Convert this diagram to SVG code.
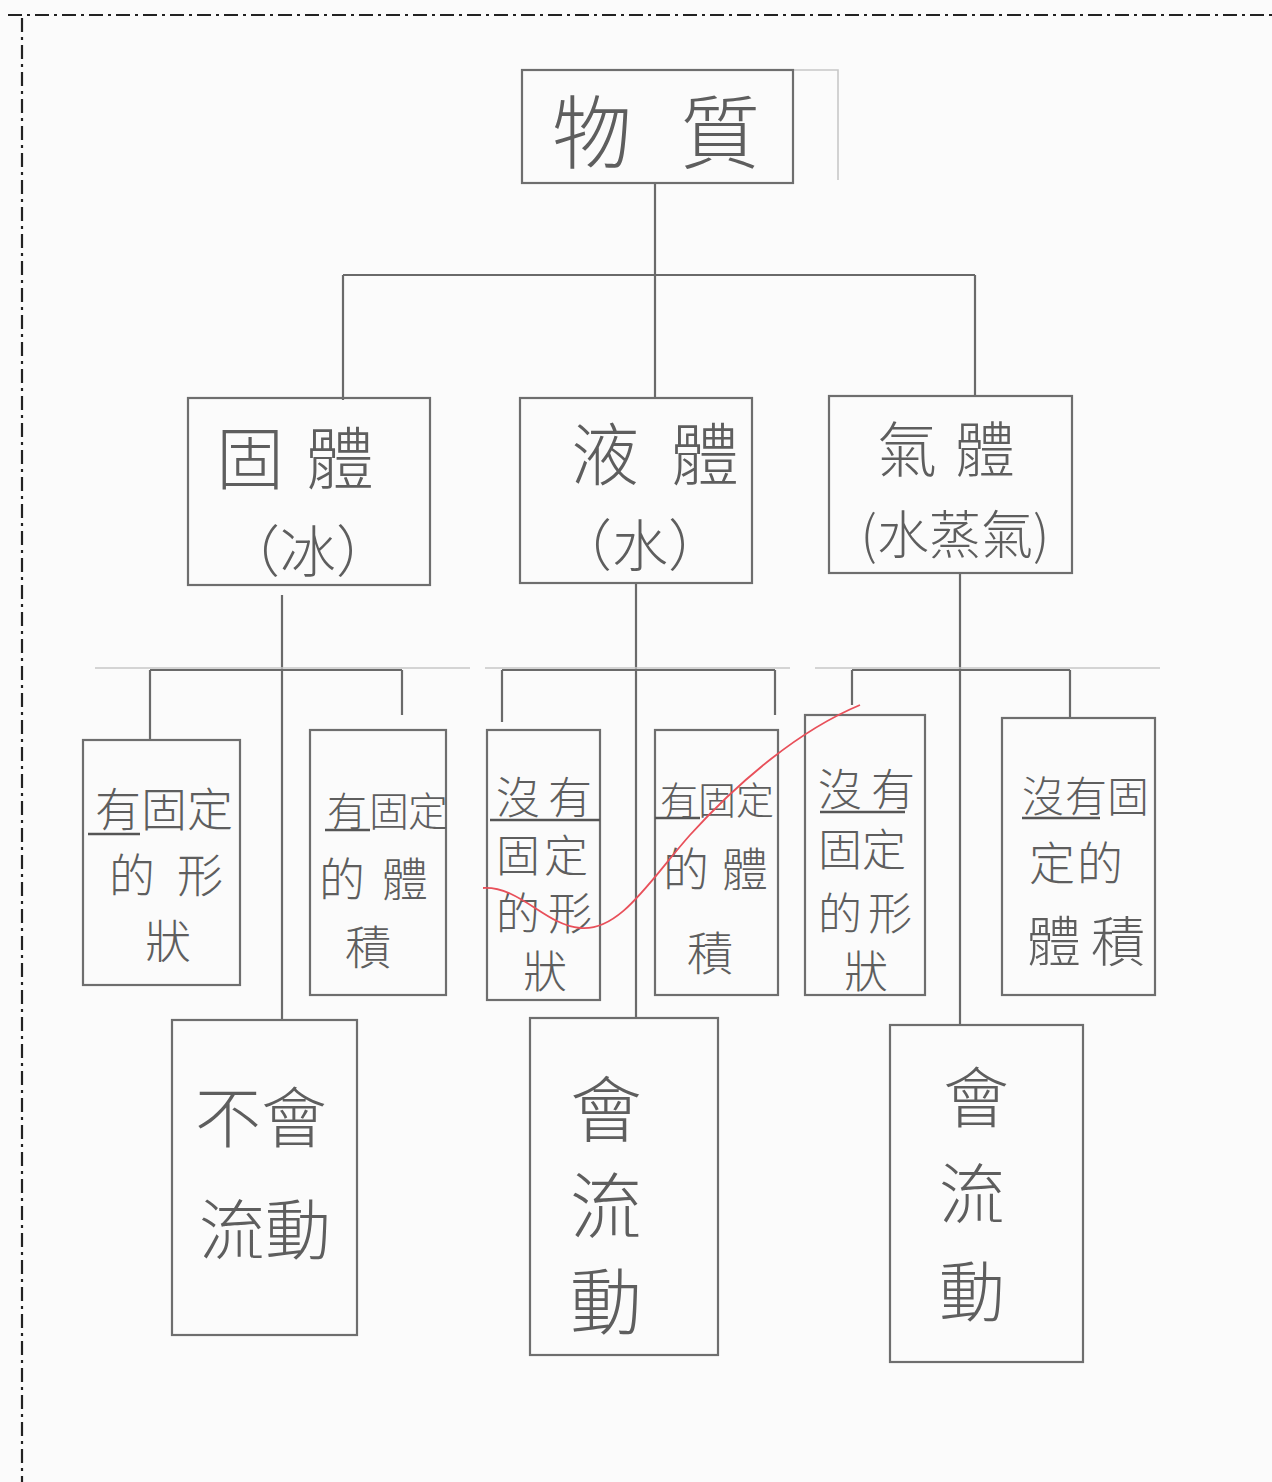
<svg xmlns="http://www.w3.org/2000/svg" width="1272" height="1482" viewBox="0 0 1272 1482">
<defs>
<style>
.bg{fill:#fbfbfb}
.frame{fill:none;stroke:#222;stroke-width:2.2;stroke-dasharray:14 5 3 5}
.box{fill:none;stroke:#6e6e6e;stroke-width:2.2}
.ln{fill:none;stroke:#6a6a6a;stroke-width:2.2}
.faint{fill:none;stroke:#c8c8c8;stroke-width:1.6}
.ul{stroke:#555;stroke-width:2.6}
.t{font-family:"Noto Sans CJK TC","Noto Sans CJK SC",sans-serif;font-weight:300;fill:#5e5e5e;text-anchor:middle}
.red{fill:none;stroke:#e8505a;stroke-width:1.8}
</style>
</defs>
<rect class="bg" x="0" y="0" width="1272" height="1482"/>
<g id="frame">
<path class="frame" d="M8 15 H1272"/>
<path class="frame" d="M22 18 V1482"/>
</g>
<g id="connectors">
<path class="ln" d="M655 183 V275 M343 275 H975 M343 275 V400 M655 275 V398 M975 275 V397"/>
<path class="ln" d="M282 595 V1020 M636 583 V1018 M960 573 V1025"/>
<path class="ln" d="M150 670 H402 M150 670 V740 M402 670 V715"/>
<path class="ln" d="M502 670 H775 M502 670 V722 M775 670 V715"/>
<path class="ln" d="M852 670 H1070 M852 670 V705 M1070 670 V718"/>
<path class="faint" d="M95 668 H470 M485 668 H790 M815 668 H1160 M793 70 H838 V180"/>
</g>
<g id="n-matter"><rect class="box" x="522" y="70" width="271" height="113"/><text class="t" x="592 720" y="162" font-size="80">物質</text></g>
<g id="n-solid"><rect class="box" x="188" y="398" width="242" height="187"/><text class="t" x="250 340" y="484" font-size="68">固體</text><text class="t" x="308" y="572" font-size="56">（冰）</text></g>
<g id="n-liquid"><rect class="box" x="520" y="398" width="232" height="185"/><text class="t" x="605 705" y="480" font-size="68">液體</text><text class="t" x="640" y="566" font-size="56">（水）</text></g>
<g id="n-gas"><rect class="box" x="829" y="396" width="243" height="177"/><text class="t" x="907 985" y="472" font-size="60">氣體</text><text class="t" x="955" y="554" font-size="52">(水蒸氣)</text></g>
<g id="n-s-shape"><rect class="box" x="83" y="740" width="157" height="245"/><line class="ul" x1="88" y1="834" x2="140" y2="834"/><text class="t" font-size="46"><tspan x="118 164 210" y="826">有固定</tspan><tspan x="132 200" y="892">的形</tspan><tspan x="168" y="958">狀</tspan></text></g>
<g id="n-s-volume"><rect class="box" x="310" y="730" width="136" height="265"/><line class="ul" x1="325" y1="830" x2="370" y2="830"/><text class="t" font-size="46"><tspan x="347 389 428" y="826" font-size="40">有固定</tspan><tspan x="342 405" y="896">的體</tspan><tspan x="368" y="964">積</tspan></text></g>
<g id="n-l-shape"><rect class="box" x="487" y="730" width="113" height="270"/><line class="ul" x1="490" y1="820" x2="600" y2="820"/><text class="t" font-size="44"><tspan x="518 570" y="814">沒有</tspan><tspan x="518 566" y="872">固定</tspan><tspan x="518 570" y="930">的形</tspan><tspan x="545" y="988">狀</tspan></text></g>
<g id="n-l-volume"><rect class="box" x="655" y="730" width="123" height="265"/><line class="ul" x1="655" y1="818" x2="700" y2="818"/><text class="t" font-size="46"><tspan x="679 717 755" y="814" font-size="38">有固定</tspan><tspan x="686 745" y="886">的體</tspan><tspan x="710" y="970">積</tspan></text></g>
<g id="n-g-shape"><rect class="box" x="805" y="715" width="120" height="280"/><line class="ul" x1="820" y1="812" x2="905" y2="812"/><text class="t" font-size="44"><tspan x="840 893" y="806">沒有</tspan><tspan x="840 884" y="866">固定</tspan><tspan x="840 890" y="930">的形</tspan><tspan x="866" y="988">狀</tspan></text></g>
<g id="n-g-volume"><rect class="box" x="1002" y="718" width="153" height="277"/><line class="ul" x1="1022" y1="818" x2="1100" y2="818"/><text class="t" font-size="46"><tspan x="1043 1086 1128" y="812" font-size="42">沒有固</tspan><tspan x="1052 1100" y="880">定的</tspan><tspan x="1054 1118" y="962" font-size="54">體積</tspan></text></g>
<g id="n-s-flow"><rect class="box" x="172" y="1020" width="185" height="315"/><text class="t" font-size="66"><tspan x="228 294" y="1142">不會</tspan><tspan x="232 298" y="1254">流動</tspan></text></g>
<g id="n-l-flow"><rect class="box" x="530" y="1018" width="188" height="337"/><text class="t" font-size="72"><tspan x="606" y="1136">會</tspan><tspan x="606" y="1232">流</tspan><tspan x="606" y="1328">動</tspan></text></g>
<g id="n-g-flow"><rect class="box" x="890" y="1025" width="193" height="337"/><text class="t" font-size="66"><tspan x="976" y="1122">會</tspan><tspan x="972" y="1218">流</tspan><tspan x="972" y="1316">動</tspan></text></g>
<path class="red" d="M483 888 C520 886 545 925 580 928 C620 932 650 880 690 835 C740 780 800 730 860 705"/>
</svg>
